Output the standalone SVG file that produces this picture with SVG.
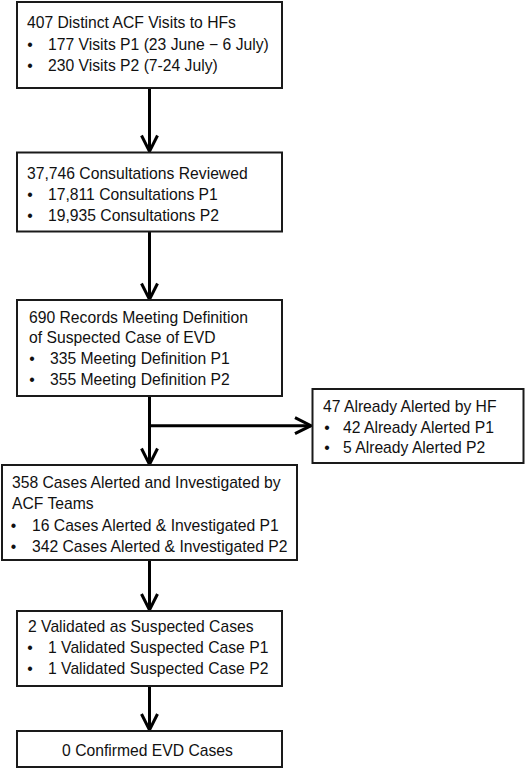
<svg xmlns="http://www.w3.org/2000/svg" width="525" height="768" viewBox="0 0 525 768">
<defs>
<style>
.box{fill:#fff;stroke:#1a1a1a;stroke-width:2}
text{font-family:"Liberation Sans",Arial,sans-serif;font-size:15.7px;fill:#111}
.b{text-anchor:middle}
.ln{fill:none;stroke:#000;stroke-width:3}
.hd{fill:none;stroke:#000;stroke-width:3;stroke-linejoin:miter}
</style>
</defs>
<rect width="525" height="768" fill="#fff"/>
<g id="connectors">
<line class="ln" x1="149.5" y1="88" x2="149.5" y2="151"/>
<polyline class="hd" points="141.5,135.5 149.5,151.5 157.5,135.5"/>
<line class="ln" x1="149.5" y1="232" x2="149.5" y2="299"/>
<polyline class="hd" points="141.5,283.5 149.5,299.5 157.5,283.5"/>
<line class="ln" x1="149.5" y1="396" x2="149.5" y2="464"/>
<polyline class="hd" points="141.5,448.5 149.5,464.5 157.5,448.5"/>
<line class="ln" x1="149.5" y1="425.7" x2="311" y2="425.7"/>
<polyline class="hd" points="295,417.7 311,425.7 295,433.7"/>
<line class="ln" x1="149.5" y1="560" x2="149.5" y2="610"/>
<polyline class="hd" points="141.5,594 149.5,610 157.5,594"/>
<line class="ln" x1="149.5" y1="686" x2="149.5" y2="730"/>
<polyline class="hd" points="141.5,714 149.5,730 157.5,714"/>
</g>
<g id="n1">
<rect class="box" x="17" y="2" width="265" height="86"/>
<text x="27" y="28">407 Distinct ACF Visits to HFs</text>
<text class="b" x="30" y="50">•</text><text x="48" y="50">177 Visits P1 (23 June − 6 July)</text>
<text class="b" x="30" y="71">•</text><text x="48" y="71">230 Visits P2 (7-24 July)</text>
</g>
<g id="n2">
<rect class="box" x="17" y="152.5" width="265" height="79"/>
<text x="27" y="179">37,746 Consultations Reviewed</text>
<text class="b" x="30" y="200">•</text><text x="48" y="200">17,811 Consultations P1</text>
<text class="b" x="30" y="221">•</text><text x="48" y="221">19,935 Consultations P2</text>
</g>
<g id="n3">
<rect class="box" x="17" y="300" width="265" height="96"/>
<text x="29" y="322.7">690 Records Meeting Definition</text>
<text x="29" y="343">of Suspected Case of EVD</text>
<text class="b" x="32" y="364">•</text><text x="50" y="364">335 Meeting Definition P1</text>
<text class="b" x="32" y="385">•</text><text x="50" y="385">355 Meeting Definition P2</text>
</g>
<g id="n4">
<rect class="box" x="312.5" y="389" width="211" height="74"/>
<text x="323" y="411.7">47 Already Alerted by HF</text>
<text class="b" x="327" y="433">•</text><text x="343" y="433">42 Already Alerted P1</text>
<text class="b" x="327" y="452.7">•</text><text x="343" y="452.7">5 Already Alerted P2</text>
</g>
<g id="n5">
<rect class="box" x="2" y="465" width="295" height="95"/>
<text x="12" y="488">358 Cases Alerted and Investigated by</text>
<text x="12" y="509">ACF Teams</text>
<text class="b" x="13.5" y="531">•</text><text x="32" y="531">16 Cases Alerted &amp; Investigated P1</text>
<text class="b" x="13.5" y="552">•</text><text x="32" y="552">342 Cases Alerted &amp; Investigated P2</text>
</g>
<g id="n6">
<rect class="box" x="17" y="611" width="265" height="75"/>
<text x="28" y="631.7">2 Validated as Suspected Cases</text>
<text class="b" x="30" y="652.7">•</text><text x="48" y="652.7">1 Validated Suspected Case P1</text>
<text class="b" x="30" y="673.5">•</text><text x="48" y="673.5">1 Validated Suspected Case P2</text>
</g>
<g id="n7">
<rect class="box" x="17" y="731" width="265" height="36"/>
<text x="147.5" y="755.7" text-anchor="middle">0 Confirmed EVD Cases</text>
</g>
</svg>
